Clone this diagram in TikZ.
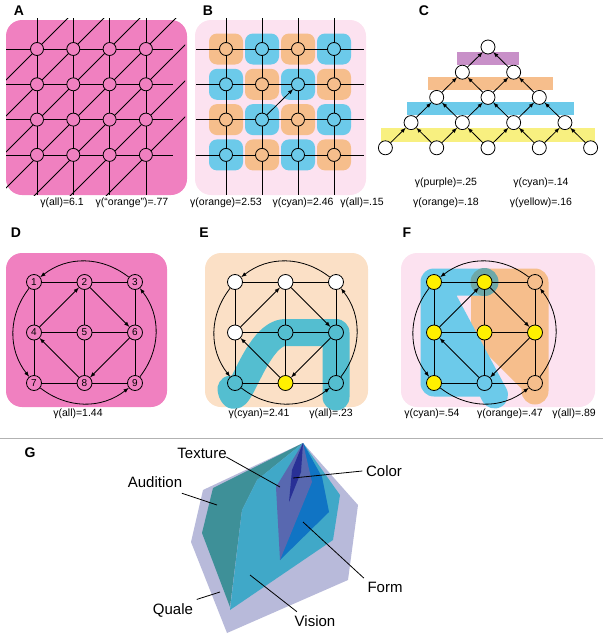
\documentclass[tikz,border=0pt]{standalone}
\usepackage{fontspec}
\setmainfont{Liberation Sans}
\usetikzlibrary{arrows,calc}

\definecolor{blobpink}{RGB}{240,128,192}
\definecolor{palepink}{RGB}{252,226,240}
\definecolor{peach}{RGB}{251,224,198}
\definecolor{orng}{RGB}{246,190,140}
\definecolor{cyn}{RGB}{108,202,234}
\definecolor{ecyn}{RGB}{84,190,208}
\definecolor{purp}{RGB}{200,144,200}
\definecolor{yelband}{RGB}{248,240,128}
\definecolor{ylw}{RGB}{255,240,0}
\definecolor{overlap}{RGB}{110,168,168}
\definecolor{quale}{RGB}{184,186,218}
\definecolor{audition}{RGB}{62,144,152}
\definecolor{vision}{RGB}{64,168,200}
\definecolor{texture}{RGB}{88,104,176}
\definecolor{form}{RGB}{16,116,196}
\definecolor{colr}{RGB}{40,48,150}

\tikzset{
  nd/.style={circle,draw,line width=0.8pt,minimum size=13pt,inner sep=0pt},
  blob/.style={rounded corners=16pt},
  lbl/.style={font=\bfseries\fontsize{14}{14}\selectfont},
  gam/.style={font=\fontsize{10.5}{11}\selectfont},
  glbl/.style={font=\fontsize{15}{16}\selectfont},
  hl/.style={line width=27pt,line cap=round,line join=round},
}

\begin{document}
\begin{tikzpicture}[x=1pt,y=-1pt,line width=0.8pt]
  \useasboundingbox (0,0) rectangle (603,637);

  % panel A
  \node[lbl] (labA) at (19,11) {A};
  \fill[blobpink,blob] (6,20) rectangle (187,195);
  \begin{scope}
    \clip (6,18) rectangle (185,195);
    \foreach \s in {0,...,6}
      \draw ({86+36*\s-200},200) -- ({86+36*\s+200},-200);
  \end{scope}
  \foreach \j in {0,...,3} {
    \draw (6,{49+35.3*\j}) -- (173,{49+35.3*\j});
    \draw ({37+36.3*\j},18) -- ({37+36.3*\j},195);
  }
  \foreach \i in {0,...,3}
    \foreach \j in {0,...,3}
      \node[nd,fill=blobpink] (a\i\j) at ({37+36.3*\i},{49+35.3*\j}) {};
  \node[gam] (gA1) at (62,203) {γ(all)=6.1};
  \node[gam] (gA2) at (132,203) {γ(“orange”)=.77};

  % panel B
  \node[lbl] (labB) at (208,11) {B};
  \fill[palepink,blob] (195,20) rectangle (366,195);
  \foreach \i in {0,...,3}
    \foreach \j in {0,...,3} {
      \pgfmathtruncatemacro\k{mod(\i+\j,2)}
      \ifnum\k=0 \def\c{orng}\else\def\c{cyn}\fi
      \fill[\c,rounded corners=8pt] ({226+36*\i-17},{49+35.3*\j-15.5}) rectangle ++(34,31);
    }
  \foreach \j in {0,...,3} {
    \draw (196,{49+35.3*\j}) -- (364,{49+35.3*\j});
    \draw ({226+36*\j},18) -- ({226+36*\j},195);
  }
  \foreach \i in {0,...,3}
    \foreach \j in {0,...,3} {
      \pgfmathtruncatemacro\k{mod(\i+\j,2)}
      \ifnum\k=0 \def\c{orng}\else\def\c{cyn}\fi
      \node[nd,fill=\c] (b\i\j) at ({226+36*\i},{49+35.3*\j}) {};
    }
  \draw[-latex] (b12) -- (b21);
  \node[gam] (gB1) at (226,203) {γ(orange)=2.53};
  \node[gam] (gB2) at (303,203) {γ(cyan)=2.46};
  \node[gam] (gB3) at (362,203) {γ(all)=.15};

  % panel C
  \node[lbl] (labC) at (424,11) {C};
  \fill[purp] (457,52) rectangle (519,65);
  \fill[orng] (428,77) rectangle (553,90);
  \fill[cyn] (407,102) rectangle (574,115);
  \fill[yelband] (381,128) rectangle (595,142);
  \foreach \r in {0,...,4}
    \foreach \k in {0,...,\r}
      \node[nd,fill=white,minimum size=14pt] (c\r\k) at ({488+51.3*(\k-\r/2)},{47+25.2*\r}) {};
  \foreach \r in {0,...,3}
    \foreach \k in {0,...,\r} {
      \pgfmathtruncatemacro\q{\r+1}
      \pgfmathtruncatemacro\m{\k+1}
      \draw[-latex] (c\q\k) -- (c\r\k);
      \draw[-latex] (c\q\m) -- (c\r\k);
    }
  \node[gam] (gC1) at (446,183) {γ(purple)=.25};
  \node[gam] (gC2) at (541,183) {γ(cyan)=.14};
  \node[gam] (gC3) at (446,203) {γ(orange)=.18};
  \node[gam] (gC4) at (541,203) {γ(yellow)=.16};

  % panels D, E, F
  \node[lbl] (labD) at (16,233) {D};
  \node[lbl] (labE) at (204,233) {E};
  \node[lbl] (labF) at (407,233) {F};
  \fill[blobpink,blob] (6,253) rectangle (167,407);
  \fill[peach,blob] (205,253) rectangle (368,407);
  \fill[palepink,blob] (401,253) rectangle (595,407);
  \foreach \p/\x in {D/34,E/235,F/434}
    \foreach \n in {1,...,9} {
      \pgfmathtruncatemacro\cx{mod(\n-1,3)}
      \pgfmathtruncatemacro\ry{(\n-1)/3}
      \coordinate (\p\n c) at ({\x+50.5*\cx},{282+50.5*\ry});
    }
  \draw[hl,ecyn] ($(E7c)+(-4,6)$) to[out=-80,in=180] (E5c) -- (E6c) -- ($(E9c)+(0,14)$);
  \fill[orng] (F2c) -- (F3c) -- (F9c) -- (F5c) -- cycle;
  \draw[hl,orng] (F2c) -- (F3c) -- (F9c) -- (F5c) -- cycle (F3c) -- (F6c) -- ($(F9c)+(0,8)$);
  \fill[cyn] (F1c) -- (F7c) -- (F8c) -- cycle;
  \draw[hl,cyn] (F2c) -- (F1c) -- (F7c) -- (F8c) -- (F4c) (F1c) -- ($(F8c)+(10,12)$);
  \fill[overlap] (F2c) circle[radius=14];
  \foreach \n in {1,...,9}
    \node[nd,fill=blobpink,minimum size=15pt,font=\fontsize{10}{10}\selectfont] (D\n) at (D\n c) {\n};
  \foreach \p/\c in {E1/white,E2/white,E3/white,E4/white,E5/ecyn,E6/ecyn,E7/ecyn,E8/ylw,E9/ecyn,
      F1/ylw,F2/ylw,F3/orng,F4/ylw,F5/ylw,F6/ylw,F7/ylw,F8/cyn,F9/orng}
    \node[nd,fill=\c,minimum size=15pt] (\p) at (\p c) {};
  \foreach \p in {D,E,F} {
    \draw (\p1) -- (\p2) -- (\p3) -- (\p6) -- (\p9) -- (\p8) -- (\p7) -- (\p4) -- (\p1);
    \draw (\p4) -- (\p5) -- (\p6) (\p2) -- (\p5) -- (\p8);
    \draw[-latex] (\p4) -- (\p2);
    \draw[-latex] (\p2) -- (\p6);
    \draw[-latex] (\p6) -- (\p8);
    \draw[-latex] (\p8) -- (\p4);
    \draw[-latex] (\p3) to[bend right=38] (\p1);
    \draw[-latex] (\p1) to[bend right=38] (\p7);
    \draw[-latex] (\p7) to[bend right=38] (\p9);
    \draw[-latex] (\p9) to[bend right=38] (\p3);
  }
  \node[gam] (gD1) at (78,414) {γ(all)=1.44};
  \node[gam] (gE1) at (259,414) {γ(cyan)=2.41};
  \node[gam] (gE2) at (331,414) {γ(all)=.23};
  \node[gam] (gF1) at (432,414) {γ(cyan)=.54};
  \node[gam] (gF2) at (510,414) {γ(orange)=.47};
  \node[gam] (gF3) at (574,414) {γ(all)=.89};

  \draw[gray!60,line width=1pt] (0,438) -- (603,438);

  % panel G
  \node[lbl] (labG) at (30,453) {G};
  \fill[quale] (203,490) -- (191,542) -- (227,633) -- (348,580) -- (358,505) -- (303,443) -- cycle;
  \fill[audition] (202,533) -- (213,488) -- (303,443) -- (257,480) -- (242,510) -- (230,607) -- cycle;
  \fill[vision] (303,443) -- (340,495) -- (333,540) -- (230,610) -- (242,510) -- (257,480) -- cycle;
  \fill[form] (303,443) -- (322,477) -- (329,512) -- (280,560) -- cycle;
  \fill[texture] (303,443) -- (312,482) -- (280,560) -- (276,487) -- cycle;
  \fill[colr] (303,443) -- (301,472) -- (289,502) -- (292,470) -- cycle;
  \node[glbl] (tex) at (202,453) {Texture};
  \node[glbl] (col) at (384,471) {Color};
  \node[glbl] (aud) at (155,482) {Audition};
  \node[glbl] (frm) at (385,587) {Form};
  \node[glbl] (qua) at (173,610) {Quale};
  \node[glbl] (vis) at (315,621) {Vision};
  \coordinate (texE) at (280,487);
  \coordinate (colE) at (293,478);
  \coordinate (audE) at (217,505);
  \coordinate (frmE) at (303,522);
  \coordinate (quaE) at (220,592);
  \coordinate (visE) at (250,575);
  \draw (tex.east) ++(-4,4) -- (texE);
  \draw (col.west) -- (colE);
  \draw (aud.south east) ++(-4,2) -- (audE);
  \draw (frm.north west) -- (frmE);
  \draw (qua.north east) -- (quaE);
  \draw (vis.north west) ++(6,0) -- (visE);
\end{tikzpicture}
\end{document}
